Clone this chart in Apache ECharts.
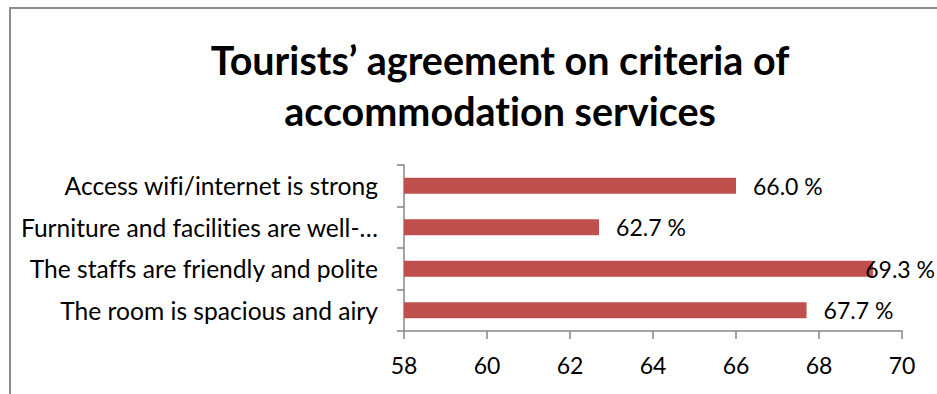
<!DOCTYPE html>
<html>
<head>
<meta charset="utf-8">
<style>
  html, body { margin: 0; padding: 0; background: #fff; }
  #chart { width: 937px; height: 394px; font-variant-ligatures: none; }
</style>
<script src="https://cdn.jsdelivr.net/npm/echarts@6/dist/echarts.min.js"></script>
</head>
<body>
<div id="chart"></div>
<script>
// Criteria, listed bottom to top as they appear on the category axis
const categories = [
  'The room is spacious and airy',
  'The staffs are friendly and polite',
  'Furniture and facilities are well-\u2026',
  'Access wifi/internet is strong'
];
// Share of tourists agreeing, in percent
const agreement = [67.7, 69.3, 62.7, 66.0];
// Value axis range and step
const axisMin = 58;
const axisMax = 70;
const axisStep = 2;

const chartTitle = 'Tourists\u2019 agreement on criteria of\naccommodation services';

const FONT = 'Lato';
const W = 937;

const chart = echarts.init(document.getElementById('chart'), null, { renderer: 'svg' });

chart.setOption({
  animation: false,
  backgroundColor: '#ffffff',
  title: {
    text: chartTitle,
    left: 500,
    top: 34,
    padding: 0,
    textAlign: 'center',
    textStyle: {
      fontFamily: FONT,
      fontWeight: 'bold',
      fontSize: 39.5,
      lineHeight: 51,
      color: '#000'
    }
  },
  graphic: [{
    type: 'rect',
    shape: { x: 10, y: 8, width: 960, height: 420 },
    style: { fill: 'none', stroke: '#8c8c8c', lineWidth: 2 },
    silent: true,
    z: -1
  }],
  grid: { left: 404, right: 35, top: 165, bottom: 63, containLabel: false },
  xAxis: {
    type: 'value',
    min: axisMin,
    max: axisMax,
    interval: axisStep,
    splitLine: { show: false },
    axisLine: { show: true, lineStyle: { color: '#868686', width: 1.5 } },
    axisTick: { show: true, inside: false, length: 8, lineStyle: { color: '#868686', width: 1.5 } },
    axisLabel: { margin: 22, fontFamily: FONT, fontSize: 23, color: '#000' }
  },
  yAxis: {
    type: 'category',
    data: categories,
    axisLine: { show: true, lineStyle: { color: '#868686', width: 1.5 } },
    axisTick: { show: true, inside: false, length: 7, lineStyle: { color: '#868686', width: 1.5 } },
    axisLabel: { margin: 26, fontFamily: FONT, fontSize: 24.6, color: '#000' }
  },
  series: [{
    type: 'bar',
    data: agreement,
    barWidth: 16,
    itemStyle: { color: '#C0504D' },
    label: {
      show: true,
      position: 'right',
      distance: 17,
      fontFamily: FONT,
      fontSize: 23,
      color: '#000',
      formatter: p => p.value.toFixed(1) + ' %'
    },
    // keep value labels inside the chart frame on the right
    labelLayout: params => {
      const r = params.labelRect;
      const overflow = r.x + r.width - (W - 2);
      return overflow > 0 ? { dx: -overflow } : {};
    }
  }]
});
</script>
</body>
</html>
